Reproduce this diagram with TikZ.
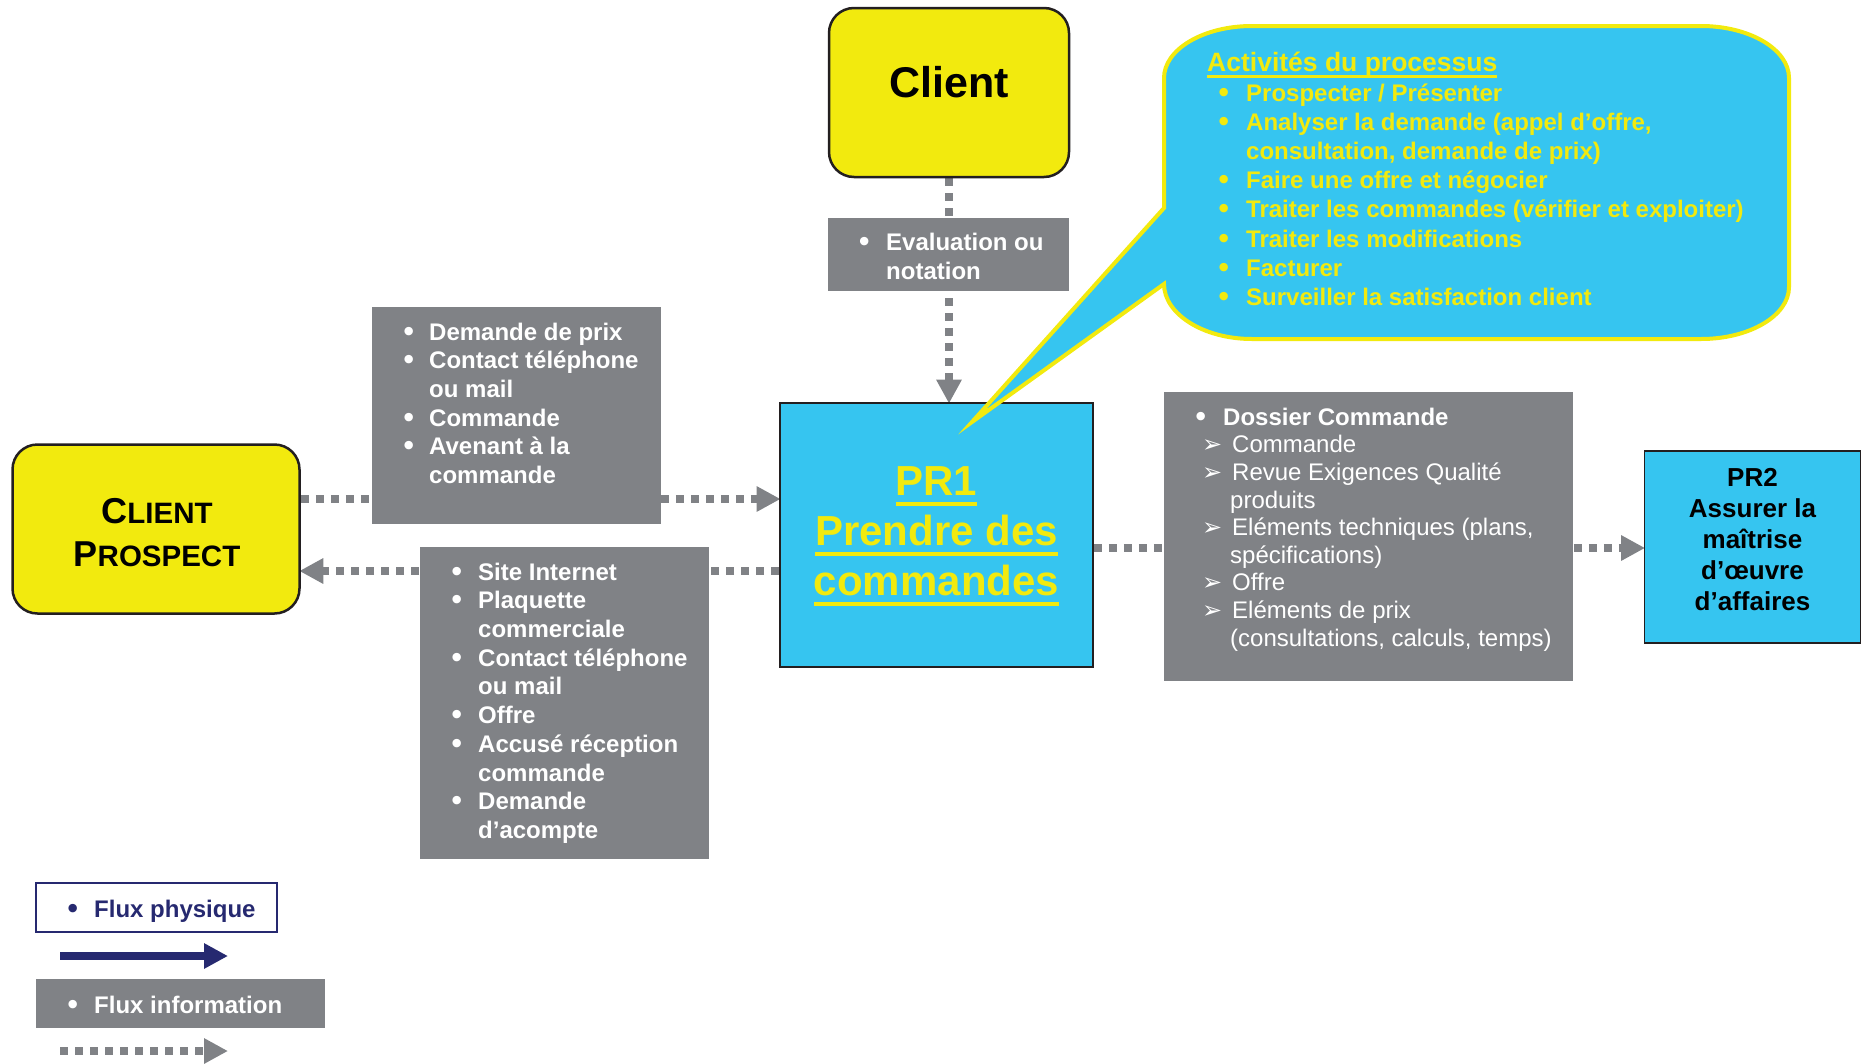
\documentclass[tikz,border=0pt]{standalone}
\usepackage{fontspec}
\setmainfont{Liberation Sans}
\newfontfamily\dingfont{DejaVu Sans}
\usetikzlibrary{arrows.meta}
\pgfdeclarelayer{background}
\pgfsetlayers{background,main}

\definecolor{boxgray}{RGB}{128,130,134}
\definecolor{cyanfill}{RGB}{54,197,240}
\definecolor{yel}{RGB}{242,234,14}
\definecolor{navy}{RGB}{38,41,112}
\definecolor{edge}{RGB}{35,31,32}

% list markers
\newcommand\dotmark{{\dingfont\textbullet}}
\newcommand\bul[1][28pt]{\makebox[#1][l]{\dotmark}}
\newcommand\arw{\hspace*{9pt}\makebox[30pt][l]{\dingfont ➢}}
\newcommand\ind[1]{\hspace*{#1}}
% underline: #1 depth of its lower edge, #2 thickness, #3 text
\newsavebox\ulbox
\newcommand\yul[3]{\leavevmode\sbox\ulbox{#3}%
  \rlap{\usebox\ulbox}\rlap{\raisebox{-#1}{\rule{\wd\ulbox}{#2}}}\hspace*{\wd\ulbox}}
% small capitals made from a smaller size
\newcommand\smc[1]{{\fontsize{29.5}{43}\selectfont #1}}

\tikzset{
  infobox/.style={fill=boxgray, inner sep=0pt, outer sep=0pt},
  proc/.style={fill=cyanfill, draw=edge, line width=1.8pt, inner sep=0pt},
  actor/.style={fill=yel, draw=edge, line width=2.5pt, rounded corners=25pt, inner sep=0pt},
  flow/.style={draw=boxgray, line width=8pt, dash pattern=on 8pt off 7pt,
    -{Triangle[length=24pt,width=24pt]}, shorten >=-1.5pt},
  phys/.style={draw=navy, line width=8pt, -{Triangle[length=24pt,width=24pt]}},
  boxtext/.style={anchor=north west, inner sep=0pt, text=white,
    font=\bfseries\fontsize{24}{28.7}\selectfont},
  bubble/.style={fill=cyanfill, draw=yel, line width=4pt},
}

\begin{document}
\begin{tikzpicture}[x=1pt,y=-1pt]
\useasboundingbox (0,0) rectangle (1863,1063);

% actors and processes
\node[actor, minimum width=287pt, minimum height=169pt] (cp) at (156,529) {};
\node[anchor=north, inner sep=0pt, font=\bfseries\fontsize{36}{43}\selectfont] (cpTxt) at (157,493)
  {\begin{tabular}{@{}c@{}}C\smc{LIENT}\\P\smc{ROSPECT}\end{tabular}};

\node[actor, minimum width=240pt, minimum height=169pt] (client) at (949,92.5) {};
\node[anchor=base, inner sep=0pt, font=\bfseries\fontsize{43}{50}\selectfont] (clientTxt) at (949,97) {Client};

\node[proc, minimum width=313pt, minimum height=264pt] (pr1) at (936.5,535) {};
\node[anchor=north, inner sep=0pt, text=yel, font=\bfseries\fontsize{42}{50}\selectfont] (pr1Txt) at (936.5,460)
  {\begin{tabular}{@{}c@{}}\yul{10.5pt}{4pt}{PR1}\\\yul{10.5pt}{4pt}{Prendre des}\\\yul{10.5pt}{4pt}{commandes}\end{tabular}};

\node[proc, minimum width=216pt, minimum height=192pt] (pr2) at (1752.5,547) {};
\node[anchor=north, inner sep=0pt, font=\bfseries\fontsize{26}{31}\selectfont] (pr2Txt) at (1752.5,464.3)
  {\begin{tabular}{@{}c@{}}PR2\\Assurer la\\maîtrise\\d’œuvre\\d’affaires\end{tabular}};

% information boxes
\node[infobox, minimum width=289pt, minimum height=217pt] (demande) at (516.5,415.5) {};
\node[boxtext] (demandeTxt) at (401,319.9)
  {\begin{tabular}{@{}l@{}}
   \bul Demande de prix\\
   \bul Contact téléphone\\
   \ind{28pt}ou mail\\
   \bul Commande\\
   \bul Avenant à la\\
   \ind{28pt}commande
   \end{tabular}};

\node[infobox, minimum width=289pt, minimum height=312pt] (site) at (564.5,703) {};
\node[boxtext] (siteTxt) at (449,559.9)
  {\begin{tabular}{@{}l@{}}
   \bul[29pt]Site Internet\\
   \bul[29pt]Plaquette\\
   \ind{29pt}commerciale\\
   \bul[29pt]Contact téléphone\\
   \ind{29pt}ou mail\\
   \bul[29pt]Offre\\
   \bul[29pt]Accusé réception\\
   \ind{29pt}commande\\
   \bul[29pt]Demande\\
   \ind{29pt}d’acompte
   \end{tabular}};

\node[infobox, minimum width=241pt, minimum height=73pt] (eval) at (948.5,254.5) {};
\node[boxtext] (evalTxt) at (856.5,230.6)
  {\begin{tabular}{@{}l@{}}
   \bul[29.5pt]Evaluation ou\\
   \ind{29.5pt}notation
   \end{tabular}};

\node[infobox, minimum width=409pt, minimum height=289pt] (dossier) at (1368.5,536.5) {};
\node[boxtext, font=\fontsize{24}{27.6}\selectfont] (dossierTxt) at (1193,405.7)
  {\begin{tabular}{@{}l@{}}
   \bfseries\bul[30pt]Dossier Commande\\
   \arw Commande\\
   \arw Revue Exigences Qualité\\
   \ind{37pt}produits\\
   \arw Eléments techniques (plans,\\
   \ind{37pt}spécifications)\\
   \arw Offre\\
   \arw Eléments de prix\\
   \ind{37pt}(consultations, calculs, temps)
   \end{tabular}};

% information flows
\begin{pgfonlayer}{background}
  \draw[flow] (cp.east |- 0,499) -- (pr1.west |- 0,499);
  \draw[flow] (pr1.west |- 0,571) -- (cp.east |- 0,571);
  \draw[flow] (client.south) -- (client.south |- pr1.north);
  \draw[flow] (pr1.east |- 0,548) -- (pr2.west |- 0,548);
\end{pgfonlayer}

% callout listing the activities
\path[bubble] (1164,208) -- (1164,78)
  .. controls (1164,49.3) and (1203.4,26) .. (1252,26) -- (1701,26)
  .. controls (1749.6,26) and (1789,49.3) .. (1789,78) -- (1789,287)
  .. controls (1789,315.7) and (1749.6,339) .. (1701,339) -- (1252,339)
  .. controls (1203.4,339) and (1164,314) .. (1164,284) -- (972,422) -- cycle;
\node[boxtext, text=yel, font=\bfseries\fontsize{24}{29.2}\selectfont] (activTxt) at (1207,51.3)
  {\begin{tabular}{@{}l@{}}
   {\fontsize{26.5}{29.2}\selectfont\yul{6pt}{3pt}{Activités du processus}}\\
   \ind{9pt}\bul[30pt]Prospecter / Présenter\\
   \ind{9pt}\bul[30pt]Analyser la demande (appel d’offre,\\
   \ind{39pt}consultation, demande de prix)\\
   \ind{9pt}\bul[30pt]Faire une offre et négocier\\
   \ind{9pt}\bul[30pt]Traiter les commandes (vérifier et exploiter)\\
   \ind{9pt}\bul[30pt]Traiter les modifications\\
   \ind{9pt}\bul[30pt]Facturer\\
   \ind{9pt}\bul[30pt]Surveiller la satisfaction client
   \end{tabular}};

% legend
\node[draw=navy, line width=2pt, fill=white, minimum width=241pt, minimum height=49pt, inner sep=0pt] (lgPhys) at (156.5,907.5) {};
\node[anchor=base west, inner sep=0pt, text=navy, font=\bfseries\fontsize{24}{28.7}\selectfont] (lgPhysTxt) at (65,917) {\bul[29pt]Flux physique};
\coordinate (lgPhysA) at (60,956);
\coordinate (lgPhysB) at (228,956);
\draw[phys] (lgPhysA) -- (lgPhysB);

\node[infobox, minimum width=289pt, minimum height=49pt] (lgInfo) at (180.5,1003.5) {};
\node[anchor=base west, inner sep=0pt, text=white, font=\bfseries\fontsize{24}{28.7}\selectfont] (lgInfoTxt) at (65,1013) {\bul[29pt]Flux information};
\coordinate (lgInfoA) at (60,1051);
\coordinate (lgInfoB) at (228,1051);
\draw[flow, shorten >=0pt] (lgInfoA) -- (lgInfoB);
\end{tikzpicture}
\end{document}
